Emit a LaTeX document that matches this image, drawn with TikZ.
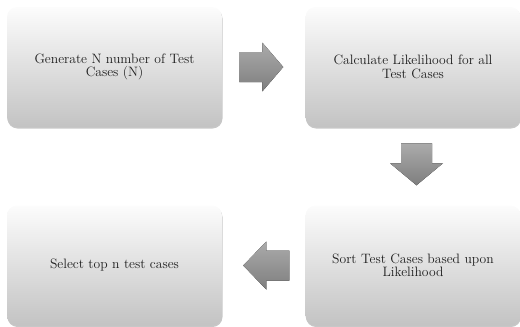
\documentclass[tikz,border=0pt]{standalone}
\usetikzlibrary{calc,shadows}
\definecolor{boxtop}{HTML}{FCFCFC}
\definecolor{boxmid}{HTML}{E9E9E9}
\definecolor{boxbot}{HTML}{C3C3C3}
\definecolor{arrtop}{HTML}{ABABAB}
\definecolor{arrbot}{HTML}{7E7E7E}
\definecolor{txt}{HTML}{1E1E1E}
\tikzset{
  stage/.style={rounded corners=10pt, top color=boxtop, middle color=boxmid,
    bottom color=boxbot, minimum width=215pt, minimum height=120pt,
    align=center, text=txt,
    font=\rmfamily\fontsize{13.6}{13.5}\selectfont,
    general shadow={shadow yshift=-1.5pt, shadow xshift=0.5pt, fill=black, opacity=0.22}},
  blockarrow/.style={top color=arrtop, bottom color=arrbot, draw=none}
}
\begin{document}
\begin{tikzpicture}[x=1pt,y=-1pt]
  \useasboundingbox (0,0) rectangle (520,327);
  % process stages
  \node[stage] (gen)  at (114.5,67)    {Generate N number of Test\\Cases (N)};
  \node[stage] (calc) at (413,67)      {Calculate Likelihood for all\\Test Cases};
  \node[stage] (sort) at (413,265.5)   {Sort Test Cases based upon\\Likelihood};
  \node[stage] (sel)  at (114.5,265.5) {Select top n test cases};
  % block arrows between stages
  \begin{scope}[shift={($(gen.east)!0.5!(calc.west)+(-2.5pt,0)$)}]
    \fill[blockarrow] (-22,-15) -- (1,-15) -- (1,-24.5) -- (22,0) -- (1,24.5) -- (1,15) -- (-22,15) -- cycle;
  \end{scope}
  \begin{scope}[shift={($(calc.south)!0.5!(sort.north)+(3.5pt,2pt)$)}]
    \fill[blockarrow] (-15.5,-21) -- (15.5,-21) -- (15.5,-1) -- (26.5,-1) -- (0,21) -- (-26.5,-1) -- (-15.5,-1) -- cycle;
  \end{scope}
  \begin{scope}[shift={($(sel.east)!0.5!(sort.west)+(2.5pt,0)$)}]
    \fill[blockarrow] (23,-15) -- (0,-15) -- (0,-24) -- (-23,0) -- (0,24) -- (0,15) -- (23,15) -- cycle;
  \end{scope}
\end{tikzpicture}
\end{document}
